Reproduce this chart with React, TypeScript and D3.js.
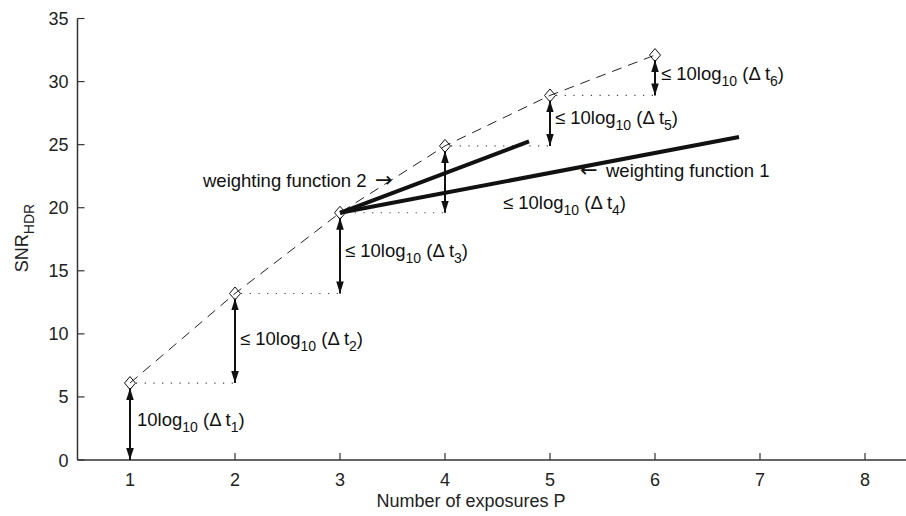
import React from "react";
import * as d3 from "d3";

const exposures = [1, 2, 3, 4, 5, 6];
const snrValues = [6.1, 13.2, 19.6, 24.9, 28.9, 32.1];
const xTicks = [1, 2, 3, 4, 5, 6, 7, 8];
const yTicks = [0, 5, 10, 15, 20, 25, 30, 35];
const weightingEnds = [
  { name: "weighting function 1", x: 6.8, y: 25.6 },
  { name: "weighting function 2", x: 4.8, y: 25.25 },
];
const deltaLabels = ["1", "2", "3", "4", "5", "6"];

const W = 906;
const H = 516;
const FONT = "'Liberation Sans', Arial, Helvetica, sans-serif";
const ARROWFONT = "'DejaVu Sans', sans-serif";
const FS = 18.5;
const TFS = 18;
const SUB = 14;

export default function App() {
  const x = d3.scaleLinear().domain([0.5, 8.5]).range([77.5, 917.5]);
  const y = d3.scaleLinear().domain([0, 35]).range([460, 18.5]);
  const line = d3
    .line<number>()
    .x((_, i) => x(exposures[i]))
    .y((d) => y(d));

  const arrows = exposures.map((e, i) => ({
    x: e,
    from: i === 0 ? 0 : snrValues[i - 1],
    to: snrValues[i],
  }));

  const labelPos = [
    { dx: 7, y: 2.7, prefix: "" },
    { dx: 5, y: 9.1, prefix: "≤ " },
    { dx: 5, y: 16.1, prefix: "≤ " },
    { dx: 58, y: 19.9, prefix: "≤ " },
    { dx: 5, y: 26.6, prefix: "≤ " },
    { dx: 6, y: 30.1, prefix: "≤ " },
  ];

  const diamond = (cx: number, cy: number) =>
    `M${cx},${cy - 6.5} L${cx + 5.5},${cy} L${cx},${cy + 6.5} L${cx - 5.5},${cy} Z`;

  const axisColor = "#333";

  return (
    <svg
      width={W}
      height={H}
      style={{ position: "absolute", left: 0, top: 0, background: "#fff" }}
      fontFamily={FONT}
    >
      <defs>
        <marker
          id="ah"
          viewBox="0 0 12 10"
          refX="12"
          refY="5"
          markerWidth="6"
          markerHeight="5"
          markerUnits="strokeWidth"
          orient="auto-start-reverse"
        >
          <path d="M0,1.2 L12,5 L0,8.8 Z" fill="#111" />
        </marker>
      </defs>

      {/* axes */}
      <line x1={x(0.5)} x2={x(8.5)} y1={y(0)} y2={y(0)} stroke={axisColor} strokeWidth={1.5} />
      <line x1={x(0.5)} x2={x(0.5)} y1={y(0)} y2={y(35)} stroke={axisColor} strokeWidth={1.5} />
      {xTicks.map((t) => (
        <g key={"xt" + t}>
          <line x1={x(t)} x2={x(t)} y1={y(0)} y2={y(0) - 7} stroke={axisColor} strokeWidth={1.2} />
          <text x={x(t)} y={y(0) + 26} textAnchor="middle" fontSize={TFS} fill="#222">
            {t}
          </text>
        </g>
      ))}
      {yTicks.map((t) => (
        <g key={"yt" + t}>
          <line x1={x(0.5)} x2={x(0.5) + 7} y1={y(t)} y2={y(t)} stroke={axisColor} strokeWidth={1.2} />
          <text x={x(0.5) - 9} y={y(t) + 6.5} textAnchor="end" fontSize={TFS} fill="#222">
            {t}
          </text>
        </g>
      ))}
      <text x={471} y={507} textAnchor="middle" fontSize={TFS} fill="#222">
        Number of exposures P
      </text>
      <text transform={`translate(28,238) rotate(-90)`} textAnchor="middle" fontSize={TFS} fill="#222">
        SNR
        <tspan fontSize={SUB} dy={6}>HDR</tspan>
      </text>

      {/* dashed curve */}
      <path d={line(snrValues) || ""} fill="none" stroke="#222" strokeWidth={1} strokeDasharray="10 7" />

      {/* dotted horizontal lines */}
      {snrValues.slice(0, -1).map((v, i) => (
        <line
          key={"dot" + i}
          x1={x(exposures[i]) + 6}
          x2={x(exposures[i] + 1)}
          y1={y(v)}
          y2={y(v)}
          stroke="#444"
          strokeWidth={1.2}
          strokeDasharray="1.2 7.5"
        />
      ))}

      {/* weighting functions */}
      {weightingEnds.map((w) => (
        <line
          key={w.name}
          x1={x(exposures[2])}
          y1={y(snrValues[2])}
          x2={x(w.x)}
          y2={y(w.y)}
          stroke="#111"
          strokeWidth={4}
          strokeLinecap="butt"
        />
      ))}

      {/* double arrows */}
      {arrows.map((a, i) => (
        <line
          key={"ar" + i}
          x1={x(a.x)}
          x2={x(a.x)}
          y1={y(a.from)}
          y2={y(a.to) + 5}
          stroke="#111"
          strokeWidth={2}
          markerStart="url(#ah)"
          markerEnd="url(#ah)"
        />
      ))}

      {/* diamonds */}
      {snrValues.map((v, i) => (
        <path key={"dm" + i} d={diamond(x(exposures[i]), y(v))} fill="none" stroke="#111" strokeWidth={1} />
      ))}

      {/* delta labels */}
      {labelPos.map((p, i) => (
        <text key={"lb" + i} x={x(exposures[i]) + p.dx} y={y(p.y)} fontSize={FS} fill="#111">
          {p.prefix}10log
          <tspan fontSize={SUB} dy={6}>10</tspan>
          <tspan dy={-6}> (Δ t</tspan>
          <tspan fontSize={SUB} dy={6}>{deltaLabels[i]}</tspan>
          <tspan dy={-6}>)</tspan>
        </text>
      ))}

      {/* weighting function labels */}
      <text x={580} y={177} fontSize={FS} fill="#111">
        <tspan fontFamily={ARROWFONT} fontSize={21}>←</tspan>
        <tspan x={606}>weighting function 1</tspan>
      </text>
      <text x={203} y={187} fontSize={FS} fill="#111">
        weighting function 2
        <tspan fontFamily={ARROWFONT} fontSize={21} x={375}>→</tspan>
      </text>
    </svg>
  );
}
